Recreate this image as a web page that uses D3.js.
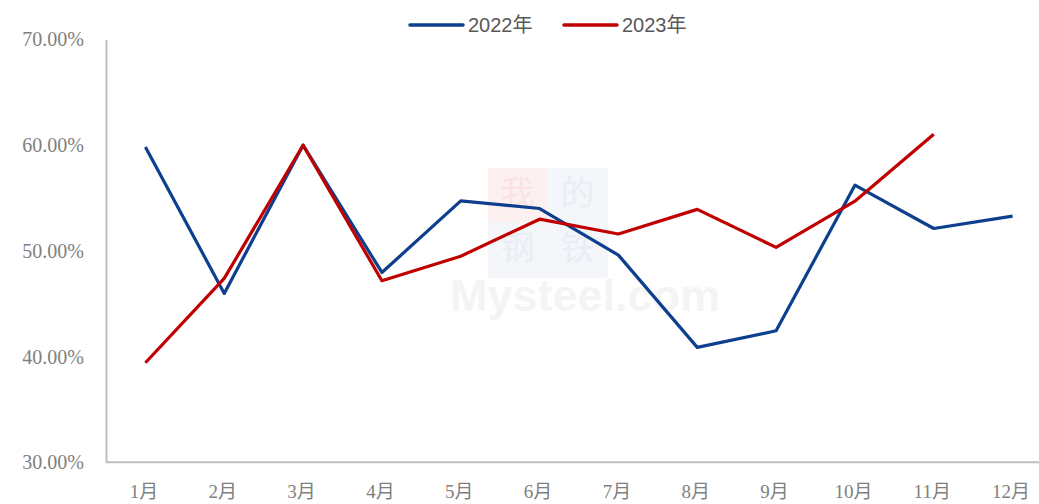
<!DOCTYPE html>
<html>
<head>
<meta charset="utf-8">
<script src="https://cdn.jsdelivr.net/npm/d3@7"></script>
<style>
  body { margin: 0; background: #fff; }
</style>
</head>
<body>
<div id="chart"></div>
<script>
const months = ['1月', '2月', '3月', '4月', '5月', '6月', '7月', '8月', '9月', '10月', '11月', '12月']
const v2022 = [59.84, 45.98, 60.0, 47.96, 54.73, 54.01, 49.6, 40.87, 42.44, 56.22, 52.12, 53.29]
const v2023 = [39.42, 47.4, 60.0, 47.17, 49.5, 53.0, 51.6, 53.93, 50.33, 54.7, 61.04]
const yTicks = [30, 40, 50, 60, 70]
const seriesNames = ['2022年', '2023年']

const width = 1039
const height = 504
const margin = { top: 39.5, right: -13, bottom: 41.7, left: 106 }

const color = d3.scaleOrdinal(seriesNames, ['#0d3f8e', '#c00000'])

const x = d3.scalePoint()
    .domain(months)
    .range([margin.left, width - margin.right])
    .padding(0.5)

const y = d3.scaleLinear()
    .domain([30, 70])
    .range([height - margin.bottom, margin.top])

const svg = d3.select('#chart')
    .append('svg')
    .attr('width', width)
    .attr('height', height)

// faint watermark
const wm = svg.append('g')
const boxes = [
    { x: 488, y: 168, w: 59, h: 54, fill: '#fdf0f0', t: '我', c: '#fbe3e3' },
    { x: 547, y: 168, w: 61, h: 54, fill: '#f4f6fa', t: '的', c: '#e9edf5' },
    { x: 488, y: 222, w: 59, h: 56, fill: '#f4f6fa', t: '钢', c: '#e9edf5' },
    { x: 547, y: 222, w: 61, h: 56, fill: '#f4f6fa', t: '铁', c: '#e9edf5' }
]
wm.selectAll('rect').data(boxes).join('rect')
    .attr('x', d => d.x).attr('y', d => d.y)
    .attr('width', d => d.w).attr('height', d => d.h)
    .attr('fill', d => d.fill)
wm.selectAll('text.wc').data(boxes).join('text')
    .attr('class', 'wc')
    .attr('x', d => d.x + d.w / 2).attr('y', d => d.y + d.h / 2 - 2)
    .attr('dy', '0.36em')
    .attr('text-anchor', 'middle')
    .attr('font-family', 'Noto Sans CJK SC, sans-serif')
    .attr('font-size', 34)
    .attr('fill', d => d.c)
    .text(d => d.t)
wm.append('text')
    .attr('x', 585).attr('y', 311)
    .attr('text-anchor', 'middle')
    .attr('font-family', 'Liberation Sans, sans-serif')
    .attr('font-weight', 'bold')
    .attr('font-size', 45)
    .attr('fill', '#f4f4f4')
    .text('Mysteel.com')

// axes
const yAxis = g => g
    .attr('transform', `translate(${margin.left},0)`)
    .call(d3.axisLeft(y).tickValues(yTicks).tickSize(0).tickPadding(22)
        .tickFormat(d => d.toFixed(2) + '%'))
    .call(g => g.select('.domain').attr('stroke', '#bfbfbf').attr('stroke-width', 2))
    .call(g => g.selectAll('text')
        .attr('fill', '#7f7f7f')
        .attr('font-size', 20)
        .attr('font-family', 'Liberation Serif, Noto Sans CJK SC, serif'))

const xAxis = g => g
    .attr('transform', `translate(0,${height - margin.bottom})`)
    .call(d3.axisBottom(x).tickSize(0).tickPadding(22))
    .call(g => g.select('.domain').attr('stroke', '#bfbfbf').attr('stroke-width', 2)
        .attr('d', `M${margin.left},0H${width}`))
    .call(g => g.selectAll('text')
        .attr('fill', '#7f7f7f')
        .attr('font-size', 19)
        .attr('dx', '-2')
        .attr('font-family', 'Liberation Serif, Noto Sans CJK SC, serif'))

svg.append('g').call(xAxis)
svg.append('g').call(yAxis)

// lines
const line = d3.line()
    .x((d, i) => x(months[i]))
    .y(d => y(d))

svg.append('g')
    .attr('fill', 'none')
    .attr('stroke-width', 3.2)
    .attr('stroke-linejoin', 'round')
    .selectAll('path')
    .data([v2022, v2023])
    .join('path')
    .attr('stroke', (d, i) => color(seriesNames[i]))
    .attr('d', line)

// legend
const legendX = [410, 564]
const item = svg.append('g')
    .selectAll('g')
    .data(seriesNames)
    .join('g')
    .attr('transform', (d, i) => `translate(${legendX[i]},25)`)

item.append('line')
    .attr('x1', 0).attr('x2', 53)
    .attr('stroke', d => color(d))
    .attr('stroke-width', 3.5)
    .attr('stroke-linecap', 'round')

item.append('text')
    .attr('x', 58)
    .attr('dy', '0.35em')
    .attr('font-size', 20)
    .attr('fill', '#595959')
    .attr('font-family', 'Liberation Sans, Noto Sans CJK SC, sans-serif')
    .text(d => d)
</script>
</body>
</html>
